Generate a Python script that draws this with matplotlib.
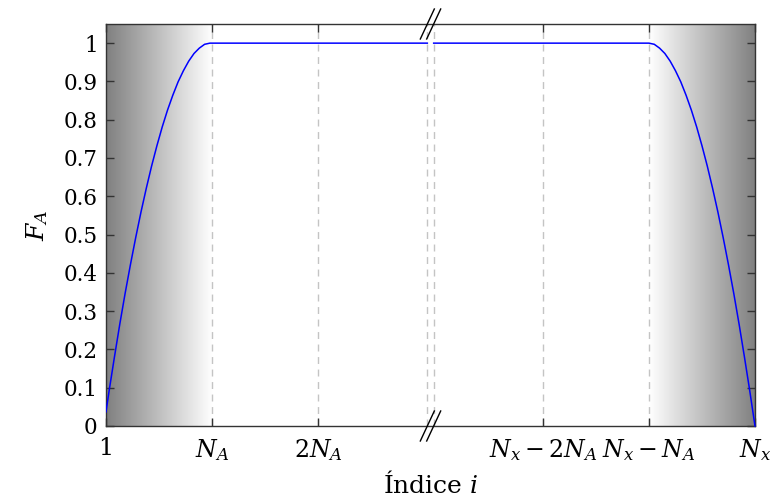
import numpy as np
import matplotlib.pyplot as plt

plt.rcParams['font.family'] = 'DejaVu Serif'
plt.rcParams['mathtext.fontset'] = 'dejavuserif'

# Curva (x en unidades de N_A)
# tramo izquierdo: desde el índice 1
x_izq = [0, 0.03, 0.08, 0.13, 0.18, 0.23, 0.28, 0.33, 0.38, 0.43, 0.48, 0.53,
         0.58, 0.63, 0.68, 0.73, 0.78, 0.83, 0.88, 0.93, 0.98, 3.03]
F_izq = [0.037, 0.093, 0.181, 0.266, 0.346, 0.421, 0.492, 0.559, 0.621, 0.679, 0.732, 0.781,
         0.825, 0.864, 0.899, 0.928, 0.953, 0.973, 0.987, 0.997, 1.0, 1.0]
# tramo derecho: relativo a N_x
x_der = [-3.03, -1.0, -0.95, -0.9, -0.85, -0.8, -0.75, -0.7, -0.65, -0.6, -0.55, -0.5,
         -0.45, -0.4, -0.35, -0.3, -0.25, -0.2, -0.15, -0.1, -0.05, 0]
F_der = [1.0, 1.0, 0.997, 0.987, 0.973, 0.953, 0.928, 0.899, 0.864, 0.825, 0.781, 0.732,
         0.679, 0.621, 0.559, 0.492, 0.421, 0.346, 0.266, 0.181, 0.093, 0.0]

ticks_izq = [0, 1, 2]
etiq_izq = ['1', r'$N_A$', r'$2N_A$']
ticks_der = [-2, -1, 0]
etiq_der = [r'$N_x-2N_A$', r'$N_x-N_A$', r'$N_x$']
yticks = [0, 0.1, 0.2, 0.3, 0.4, 0.5, 0.6, 0.7, 0.8, 0.9, 1.0]
yetiq = ['0', '0.1', '0.2', '0.3', '0.4', '0.5', '0.6', '0.7', '0.8', '0.9', '1']

fin_izq = 3.03   # donde corta el eje izquierdo
ini_der = 3.09   # donde empieza el tramo derecho
pos_Nx = 6.12    # posición de N_x en el eje

fig = plt.figure(figsize=(7.72, 5.04), dpi=100)
ax = fig.add_axes([106/772, 1 - 426/504, 649/772, 402/504])

# Sombreado gris -> blanco
rampa = np.linspace(0.5, 1.0, 256).reshape(1, -1)
ax.imshow(rampa, cmap='gray', vmin=0, vmax=1, aspect='auto',
          extent=[0, 1, 0, 1.05], zorder=0)
ax.imshow(rampa[:, ::-1], cmap='gray', vmin=0, vmax=1, aspect='auto',
          extent=[pos_Nx - 1, pos_Nx, 0, 1.05], zorder=0)

# Rejilla vertical discontinua
for xg in [1, 2, fin_izq, ini_der, pos_Nx - 2, pos_Nx - 1]:
    ax.axvline(xg, color='#c4c4c4', lw=1, ls=(0, (5, 4)), zorder=1)

# Curva
xr = np.array(x_der)
ax.plot(x_izq, F_izq, color='blue', lw=1.1, zorder=3)
ax.plot(xr + pos_Nx, F_der, color='blue', lw=1.1, zorder=3, clip_on=False)

ax.set_xlim(0, pos_Nx)
ax.set_ylim(0, 1.05)

ax.set_xticks(ticks_izq + [t + pos_Nx for t in ticks_der])
ax.set_xticklabels(etiq_izq + etiq_der)
ax.set_yticks(yticks)
ax.set_yticklabels(yetiq)
ax.tick_params(direction='in', top=True, right=True, length=6, width=1,
               labelsize=15.5, color='#333333', pad=6)
ax.tick_params(axis='x', labelsize=17, pad=8)

for s in ax.spines.values():
    s.set_color('#333333')
    s.set_linewidth(1)

ax.set_xlabel(r'Índice $i$', fontsize=18, labelpad=6)
ax.set_ylabel(r'$F_A$', fontsize=18, labelpad=10)

# Marcas de corte del eje
ancho = ax.get_position().width * 772
alto = ax.get_position().height * 504
dx = 7 / ancho
dy = 15 / alto
for xc in [fin_izq, ini_der]:
    fx = xc / pos_Nx
    for fy in [0, 1]:
        ax.plot([fx - dx, fx + dx], [fy - dy, fy + dy], color='black', lw=1,
                transform=ax.transAxes, clip_on=False, zorder=5)

fig.savefig('out.png', dpi=100)
